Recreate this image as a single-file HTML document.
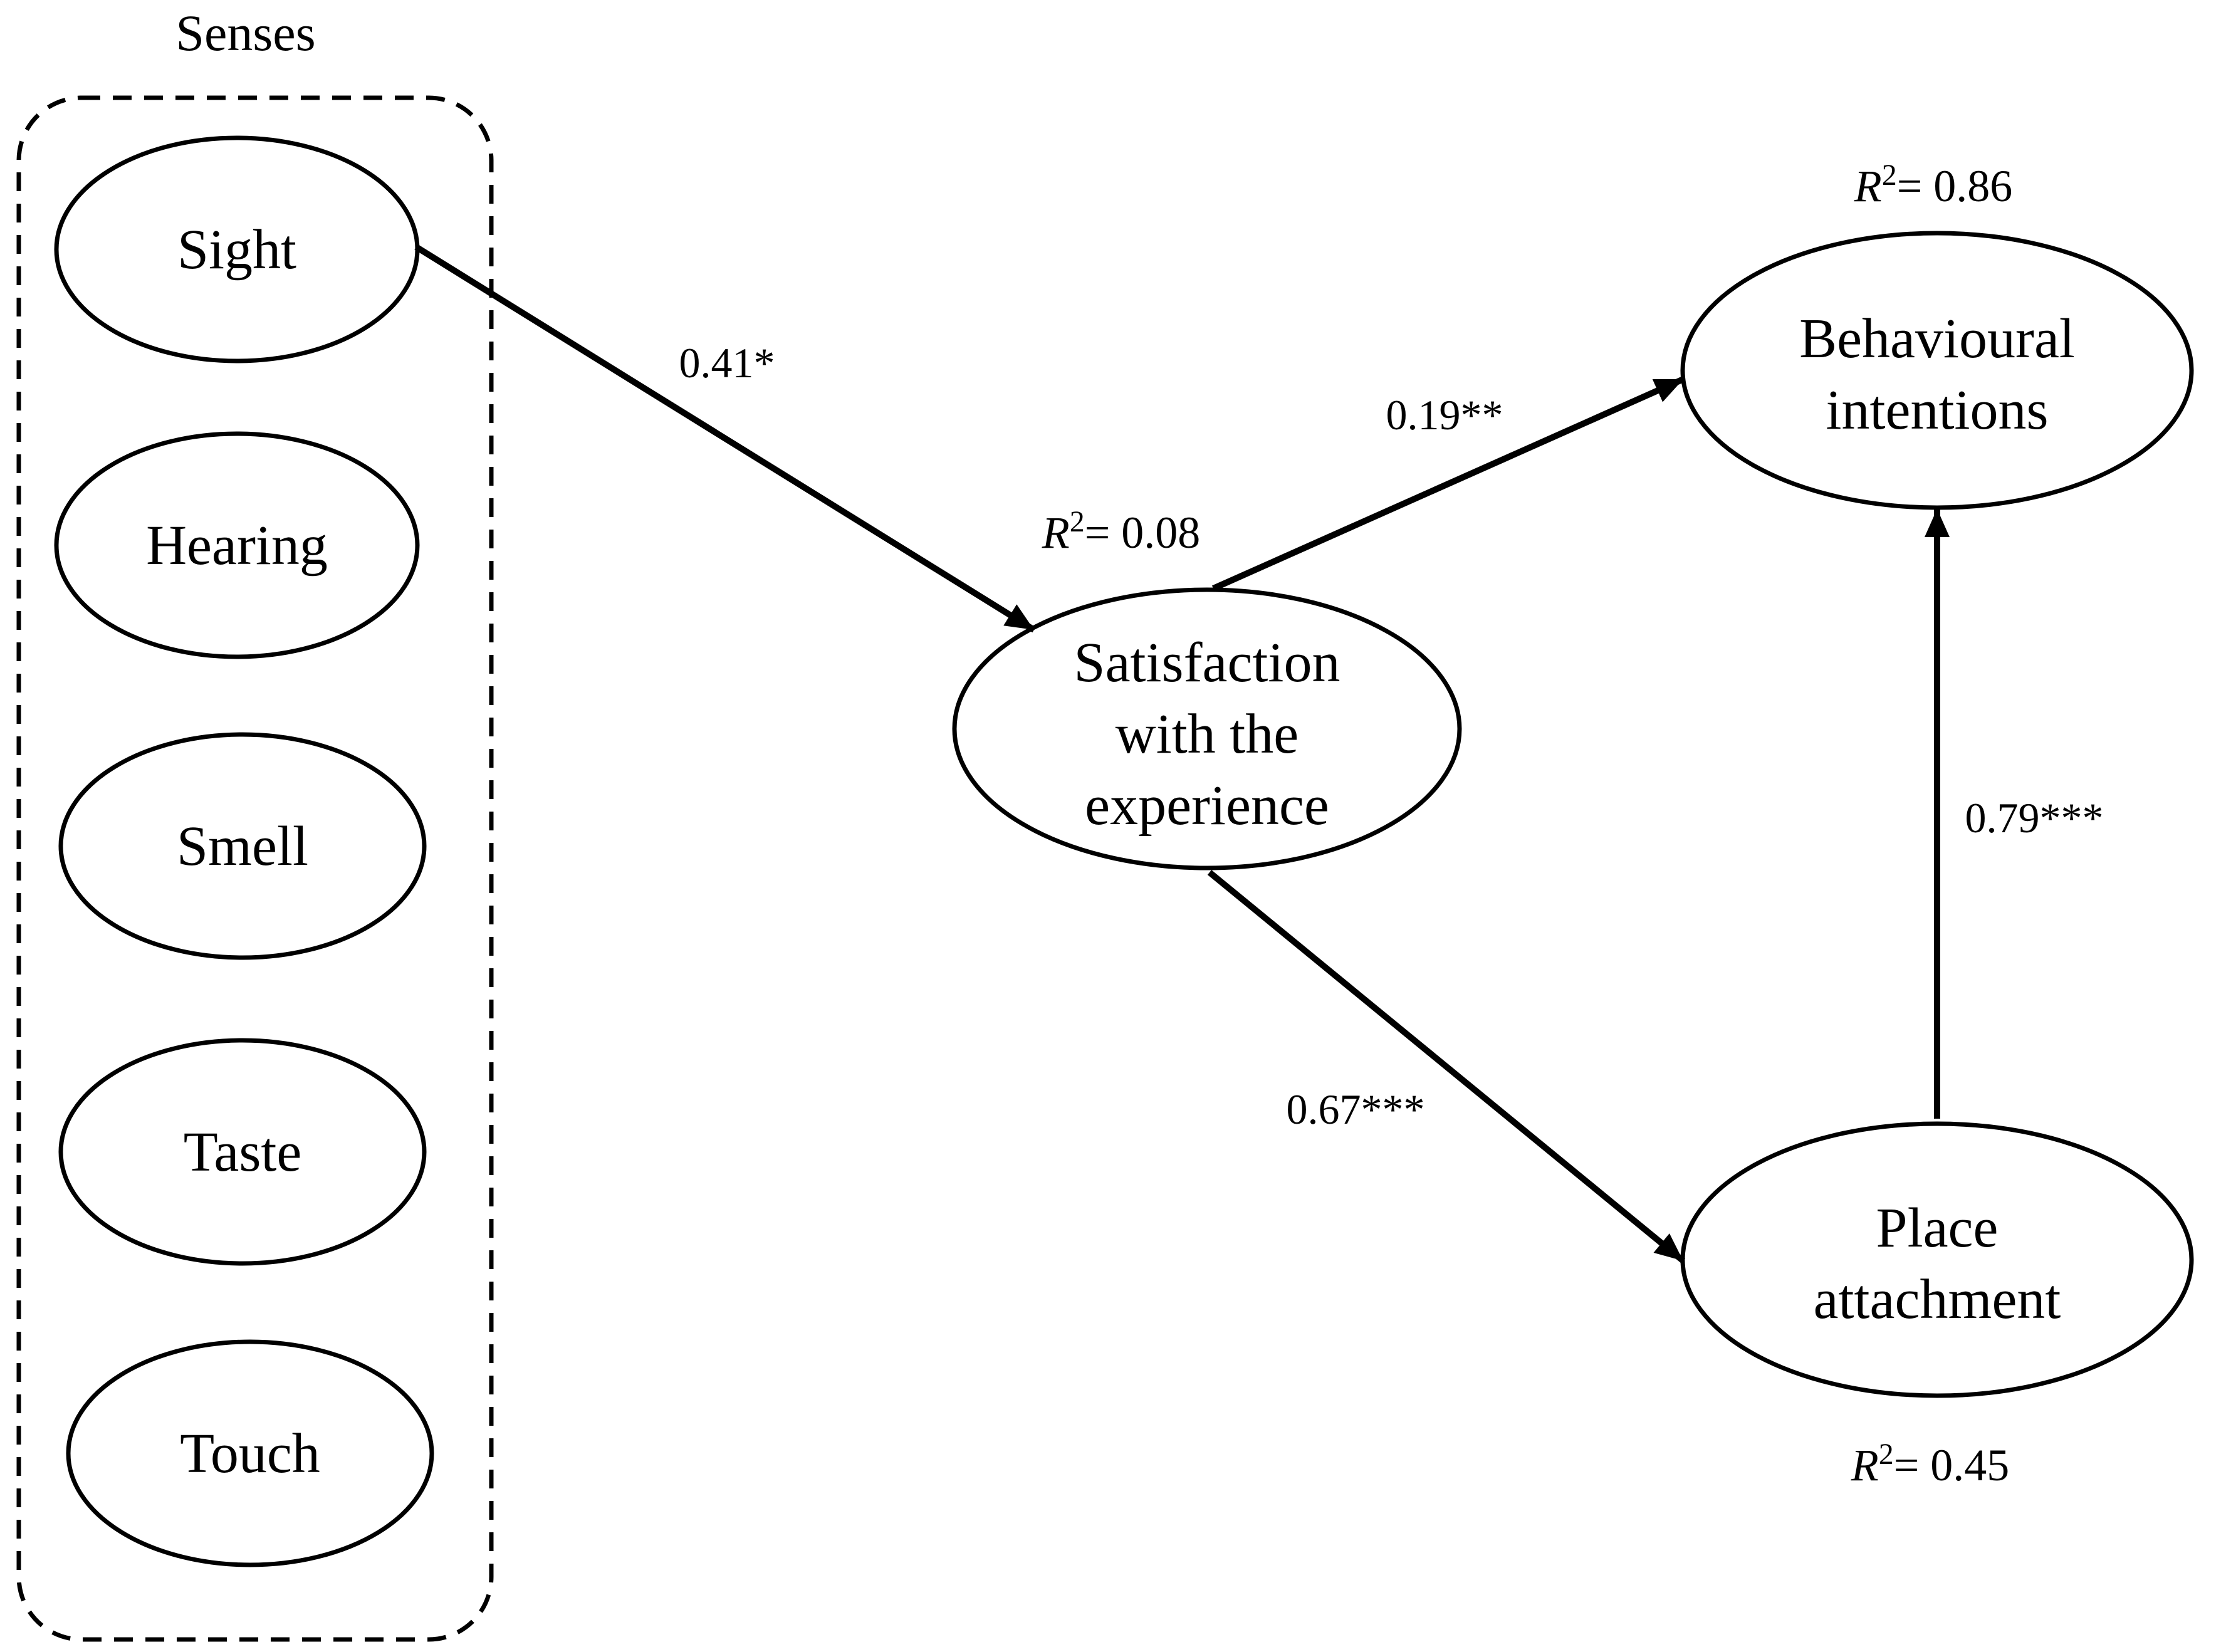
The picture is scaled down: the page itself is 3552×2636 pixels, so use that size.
<!DOCTYPE html>
<html><head><meta charset="utf-8">
<style>
html,body{margin:0;padding:0;background:#fff;}
svg{display:block;}
text{font-family:"Liberation Serif",serif;fill:#000;}
</style></head>
<body>
<svg width="3552" height="2636" viewBox="0 0 3552 2636" xmlns="http://www.w3.org/2000/svg">
<defs>
<marker id="ah" markerWidth="4.5" markerHeight="4" refX="4.5" refY="2" orient="auto" markerUnits="strokeWidth">
<path d="M0,0 L4.5,2 L0,4 Z" fill="#000"/>
</marker>
</defs>
<rect width="3552" height="2636" fill="#fff"/>
<text x="392" y="80" font-size="82" text-anchor="middle">Senses</text>
<rect x="30" y="156" width="754" height="2460" rx="100" ry="100" fill="none" stroke="#000" stroke-width="7" stroke-dasharray="30,20"/>
<g fill="#fff" stroke="#000" stroke-width="7">
<ellipse cx="378" cy="398" rx="288" ry="178"/>
<ellipse cx="378" cy="870" rx="288" ry="178"/>
<ellipse cx="387" cy="1350" rx="290" ry="178"/>
<ellipse cx="387" cy="1838" rx="290" ry="178"/>
<ellipse cx="399" cy="2319" rx="290" ry="178"/>
<ellipse cx="1926" cy="1163" rx="403" ry="222"/>
<ellipse cx="3091" cy="591" rx="406" ry="219"/>
<ellipse cx="3091" cy="2010" rx="406" ry="217"/>
</g>
<g font-size="90" text-anchor="middle">
<text x="378" y="428">Sight</text>
<text x="378" y="900">Hearing</text>
<text x="387" y="1380">Smell</text>
<text x="387" y="1868">Taste</text>
<text x="399" y="2349">Touch</text>
<text x="1926" y="1087">Satisfaction</text>
<text x="1926" y="1201">with the</text>
<text x="1926" y="1315">experience</text>
<text x="3091" y="570">Behavioural</text>
<text x="3091" y="684">intentions</text>
<text x="3091" y="1989">Place</text>
<text x="3091" y="2103">attachment</text>
</g>
<g stroke="#000" stroke-width="10" fill="none">
<line x1="664" y1="394" x2="1650" y2="1005" marker-end="url(#ah)"/>
<line x1="1936" y1="939" x2="2686" y2="605" marker-end="url(#ah)"/>
<line x1="1930" y1="1392" x2="2686" y2="2012" marker-end="url(#ah)"/>
<line x1="3091" y1="1785" x2="3091" y2="812" marker-end="url(#ah)"/>
</g>
<g font-size="68" text-anchor="middle">
<text x="1160" y="602">0.41*</text>
<text x="2305" y="685">0.19**</text>
<text x="3246" y="1328">0.79***</text>
<text x="2163" y="1793">0.67***</text>
</g>
<g font-size="72" text-anchor="middle">
<text x="1789" y="874"><tspan font-style="italic">R</tspan><tspan font-size="48" dy="-26">2</tspan><tspan dy="26">= 0.08</tspan></text>
<text x="3085" y="321"><tspan font-style="italic">R</tspan><tspan font-size="48" dy="-26">2</tspan><tspan dy="26">= 0.86</tspan></text>
<text x="3080" y="2362"><tspan font-style="italic">R</tspan><tspan font-size="48" dy="-26">2</tspan><tspan dy="26">= 0.45</tspan></text>
</g>
</svg>
</body></html>
